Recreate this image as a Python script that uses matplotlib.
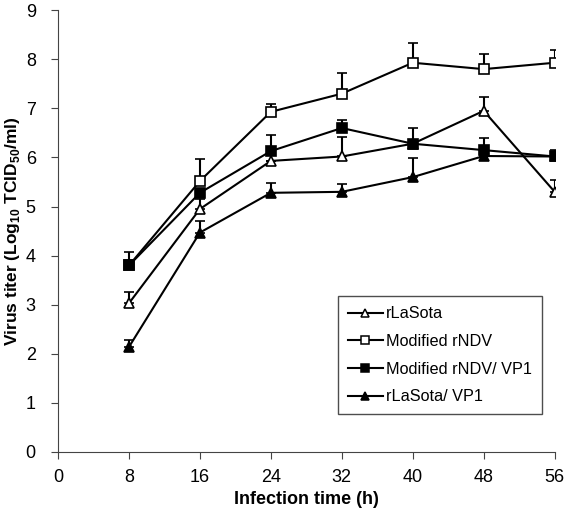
import matplotlib
matplotlib.use('Agg')
import matplotlib.pyplot as plt
from matplotlib.lines import Line2D
import numpy as np

plt.rcParams['font.family'] = ['Liberation Sans', 'DejaVu Sans']
plt.rcParams['mathtext.fontset'] = 'custom'
plt.rcParams['mathtext.rm'] = 'Liberation Sans'
plt.rcParams['mathtext.bf'] = 'Liberation Sans:bold'

hours = [8, 16, 24, 32, 40, 48, 56]

lasota = [3.03, 4.95, 5.93, 6.02, 6.28, 6.95, 5.30]
lasota_err = [0.22, 0.20, 0.00, 0.40, 0.00, 0.28, 0.25]

mod_rndv = [3.80, 5.52, 6.93, 7.30, 7.93, 7.80, 7.93]
mod_rndv_err = [0.00, 0.45, 0.15, 0.43, 0.40, 0.31, 0.26]

mod_rndv_vp1 = [3.80, 5.28, 6.13, 6.60, 6.28, 6.15, 6.02]
mod_rndv_vp1_err = [0.27, 0.00, 0.33, 0.17, 0.32, 0.25, 0.13]

lasota_vp1 = [2.14, 4.47, 5.28, 5.30, 5.60, 6.03, 6.02]
lasota_vp1_err = [0.15, 0.23, 0.20, 0.15, 0.38, 0.00, 0.00]

series = [
    ('rLaSota', lasota, lasota_err, '^', 'white'),
    ('Modified rNDV', mod_rndv, mod_rndv_err, 's', 'white'),
    ('Modified rNDV/ VP1', mod_rndv_vp1, mod_rndv_vp1_err, 's', 'black'),
    ('rLaSota/ VP1', lasota_vp1, lasota_vp1_err, '^', 'black'),
]

fig = plt.figure(figsize=(5.66, 5.11), dpi=100)
ax = fig.add_axes([0.1025, 0.1155, 0.8775, 0.8645])

handles = []
for label, vals, err, mk, fc in series:
    yerr = [np.zeros(len(err)), err]
    ax.errorbar(hours, vals, yerr=yerr, color='black', lw=1.5, marker=mk,
                markersize=7, markerfacecolor=fc, markeredgecolor='black',
                markeredgewidth=1.2, capsize=3.5, capthick=1.5, elinewidth=1.5)
    handles.append(Line2D([], [], color='black', lw=1.5, marker=mk, markersize=5.5,
                          markerfacecolor=fc, markeredgecolor='black',
                          markeredgewidth=1.1, label=label))

ax.set_xlim(0, 56)
ax.set_ylim(0, 9)
ax.set_xticks(range(0, 57, 8))
ax.set_yticks(range(0, 10))
ax.spines['top'].set_visible(False)
ax.spines['right'].set_visible(False)
for s in ['left', 'bottom']:
    ax.spines[s].set_color('#444444')
ax.tick_params(direction='out', length=5, color='#444444', labelsize=13)
ax.tick_params(axis='y', pad=11)
ax.tick_params(axis='x', pad=7)

ax.set_xlabel('Infection time (h)', fontsize=13, fontweight='bold', labelpad=4)
ax.set_ylabel(r'Virus titer (Log$_{\mathbf{10}}$ TCID$_{\mathbf{50}}$/ml)',
              fontsize=12.5, fontweight='bold', labelpad=3)

leg = ax.legend(handles=handles, loc='lower right', bbox_to_anchor=(0.974, 0.086),
                borderaxespad=0, fontsize=11.7, frameon=True, fancybox=False,
                edgecolor='#222222', handlelength=2.15, handletextpad=0.2,
                labelspacing=0.78, borderpad=0.6)
leg.get_frame().set_linewidth(1.0)

fig.savefig('out.png', dpi=100)
